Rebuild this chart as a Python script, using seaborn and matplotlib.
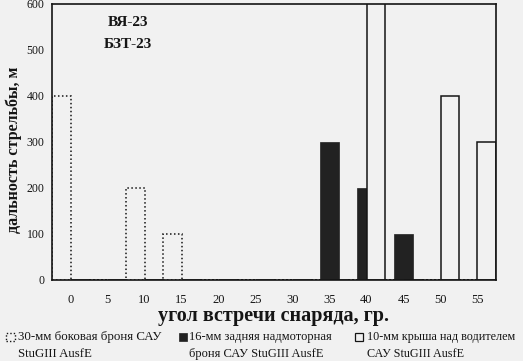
import matplotlib
matplotlib.use("Agg")
import matplotlib.pyplot as plt
import seaborn as sns
import pandas as pd
from matplotlib.patches import Rectangle

# ---- data ----
angles = [0, 5, 10, 15, 20, 25, 30, 35, 40, 45, 50, 55]
side_30mm = [400, 0, 200, 100, 0, 0, 0, 0, 0, 0, 0, 0]
rear_16mm = [0, 0, 0, 0, 0, 0, 0, 300, 200, 100, 0, 0]
roof_10mm = [0, 0, 0, 0, 0, 0, 0, 0, 650, 0, 400, 300]
y_ticks = [0, 100, 200, 300, 400, 500, 600]
series_names = ["30-мм боковая броня САУ\nStuGIII AusfE",
                "16-мм задняя надмоторная\nброня САУ StuGIII AusfE",
                "10-мм крыша над водителем\nСАУ StuGIII AusfE"]

W, H = 523, 361
BG = "#f1f1f1"
INK = "#151515"

sns.set_theme(style="white")
plt.rcParams["font.family"] = ["Liberation Serif", "DejaVu Serif"]

fig = plt.figure(figsize=(W / 100, H / 100), dpi=100, facecolor=BG)
ax = fig.add_axes([52 / W, 1 - 280 / H, (496 - 52) / W, (280 - 4) / H])
ax.set_facecolor(BG)

def px(x, y):
    return x / W, 1 - y / H

# bars: three overlapping series, each half a category wide
offsets = [-1.25, 0.0, 1.25]
styles = [
    dict(color=BG, edgecolor=INK, linewidth=1.1, linestyle=(0, (1, 1.6))),
    dict(color="#222222", edgecolor="#222222", linewidth=0.5),
    dict(color=BG, edgecolor=INK, linewidth=1.1),
]
for vals, off, st in zip([side_30mm, rear_16mm, roof_10mm], offsets, styles):
    df = pd.DataFrame({"pos": [a + off for a in angles], "range": vals})
    sns.barplot(data=df, x="pos", y="range", native_scale=True, width=0.5,
                errorbar=None, saturation=1, ax=ax, **st)

ax.set_xlim(-2.5, 57.5)
ax.set_ylim(0, 600)
ax.set_yticks(y_ticks)
ax.set_yticklabels([str(v) for v in y_ticks], fontsize=8.5, color=INK)
ax.set_xticks(angles)
ax.set_xticklabels([str(a) for a in angles], fontsize=9, color=INK)
ax.set_xticks([a + 2.5 for a in angles[:-1]], minor=True)
ax.tick_params(axis="x", which="major", length=0, pad=10)
ax.tick_params(axis="x", which="minor", direction="inout", length=7, width=1.1, color=INK)
ax.tick_params(axis="y", which="major", direction="inout", length=7, width=1.1, color=INK, pad=2)
for sp in ax.spines.values():
    sp.set_visible(True)
    sp.set_color(INK)
    sp.set_linewidth(1.2)

ax.set_xlabel("угол встречи снаряда, гр.", fontsize=14.5, fontweight="bold", color=INK, labelpad=0)
ax.set_ylabel("дальность стрельбы, м", fontsize=11.5, fontweight="bold", color=INK)
ax.yaxis.set_label_coords(-0.068, 0.47)

fig.text(*px(128, 23), "ВЯ-23", fontsize=11, fontweight="bold", color=INK, ha="center", va="center")
fig.text(*px(128, 45), "БЗТ-23", fontsize=11, fontweight="bold", color=INK, ha="center", va="center")

# legend (manual)
def patch(x0, y0, w, h, **kw):
    fx, fy = px(x0, y0 + h)
    fig.patches.append(Rectangle((fx, fy), w / W, h / H, transform=fig.transFigure, **kw))

patch(6, 333, 9, 8, facecolor=BG, edgecolor=INK, linewidth=1.0, linestyle=(0, (1, 1.5)))
patch(179, 333, 8, 8, facecolor="#222222", edgecolor="#222222", linewidth=0.5)
patch(355, 333, 8, 8, facecolor=BG, edgecolor=INK, linewidth=0.9)

y1, y2 = 337, 354
for (name, x, fs) in zip(series_names, [18, 189, 367], [9.3, 9, 8.7]):
    a, b = name.split("\n")
    fig.text(*px(x, y1), a, fontsize=fs, color=INK, va="center")
    fig.text(*px(x, y2), b, fontsize=fs, color=INK, va="center")

fig.savefig("out.png", dpi=100, facecolor=BG)
